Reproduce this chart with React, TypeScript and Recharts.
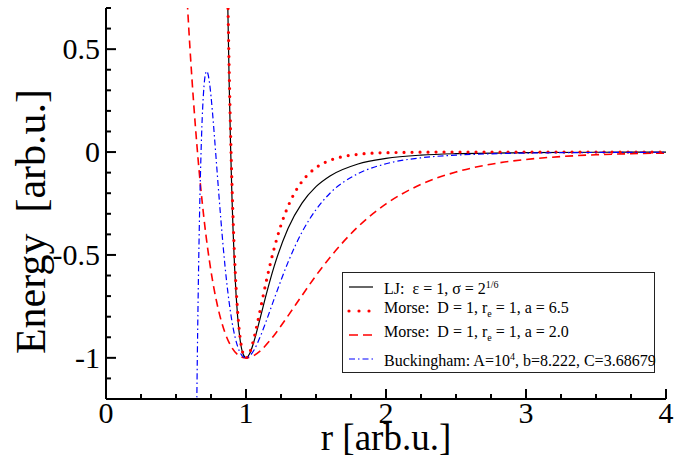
import { LineChart, Line, XAxis, YAxis, Legend } from "recharts";

const FONT = "Liberation Serif";

// ticks
const xTicks = [0, 0.25, 0.5, 0.75, 1, 1.25, 1.5, 1.75, 2, 2.25, 2.5, 2.75, 3, 3.25, 3.5, 3.75, 4];
const yTicks = [-1.2, -1.1, -1, -0.9, -0.8, -0.7, -0.6, -0.5, -0.4, -0.3, -0.2, -0.1, 0, 0.1, 0.2, 0.3, 0.4, 0.5, 0.6, 0.7];

// LJ: eps = 1, sigma = 2^(1/6)
const ljR = [0.86, 0.87, 0.88, 0.89, 0.9, 0.92, 0.94, 0.96, 0.98, 1, 1.03, 1.06, 1.1, 1.15, 1.2, 1.3, 1.4, 1.5, 1.6, 1.8, 2, 2.25, 2.5, 3, 3.5, 4];
const ljV = [1.166, 0.706, 0.33, 0.024, -0.223, -0.579, -0.798, -0.923, -0.983, -1, -0.974, -0.913, -0.81, -0.678, -0.558, -0.371, -0.248, -0.168, -0.116, -0.058, -0.031, -0.015, -0.008, -0.003, -0.001, -0.0005];

// Morse a = 6.5
const morseAR = [0.86, 0.87, 0.88, 0.89, 0.9, 0.92, 0.94, 0.96, 0.98, 1, 1.02, 1.04, 1.06, 1.08, 1.1, 1.15, 1.2, 1.25, 1.3, 1.35, 1.4, 1.5, 1.6, 1.7, 1.8, 2, 2.5, 3, 4];
const morseAV = [1.203, 0.764, 0.396, 0.09, -0.162, -0.535, -0.772, -0.912, -0.981, -1, -0.985, -0.948, -0.896, -0.836, -0.772, -0.612, -0.471, -0.355, -0.264, -0.195, -0.143, -0.076, -0.04, -0.021, -0.011, -0.003, 0, 0, 0];

// Morse a = 2.0
const morseBR = [0.57, 0.6, 0.65, 0.7, 0.75, 0.8, 0.85, 0.9, 0.95, 1, 1.05, 1.1, 1.2, 1.3, 1.4, 1.5, 1.6, 1.8, 2, 2.25, 2.5, 2.75, 3, 3.25, 3.5, 3.75, 4];
const morseBV = [0.858, 0.502, 0.028, -0.324, -0.579, -0.758, -0.878, -0.951, -0.989, -1, -0.991, -0.967, -0.891, -0.796, -0.697, -0.6, -0.512, -0.363, -0.252, -0.157, -0.097, -0.059, -0.036, -0.022, -0.013, -0.008, -0.005];

// Buckingham
const buckR = [0.63, 0.64, 0.65, 0.66, 0.67, 0.68, 0.69, 0.7, 0.71, 0.72, 0.73, 0.74, 0.76, 0.78, 0.8, 0.82, 0.84, 0.86, 0.88, 0.9, 0.92, 0.94, 0.96, 0.98, 1, 1.03, 1.06, 1.1, 1.15, 1.2, 1.3, 1.4, 1.5, 1.6, 1.8, 2, 2.25, 2.5, 2.75, 3, 3.5, 4];
const buckV = [-2.68, -1.8, -1.13, -0.622, -0.245, 0.023, 0.207, 0.32, 0.378, 0.393, 0.375, 0.333, 0.198, 0.027, -0.152, -0.324, -0.482, -0.619, -0.732, -0.824, -0.894, -0.944, -0.977, -0.995, -1, -0.988, -0.959, -0.9, -0.811, -0.716, -0.536, -0.389, -0.28, -0.2, -0.105, -0.057, -0.028, -0.015, -0.0085, -0.005, -0.002, -0.0009];

const pts = (rs: number[], vs: number[]) => rs.map((r, i) => ({ r, v: vs[i] }));

const series = [
  { key: "lj", data: pts(ljR, ljV), color: "#000000", width: 1.2, dash: undefined, legendDash: undefined, cap: "butt" },
  { key: "morseA", data: pts(morseAR, morseAV), color: "#ff0000", width: 3.2, dash: "0 8", legendDash: "0 10", cap: "round" },
  { key: "morseB", data: pts(morseBR, morseBV), color: "#ff0000", width: 1.6, dash: "8 5", legendDash: "9 5", cap: "butt" },
  { key: "buck", data: pts(buckR, buckV), color: "#0000ff", width: 1.2, dash: "6 3 1.5 3", legendDash: "6 3 1.5 3", cap: "butt" },
];

const legendLabels = [
  <>LJ:  ε = 1, σ = 2<sup style={{ fontSize: 10 }}>1/6</sup></>,
  <>Morse:  D = 1, r<sub style={{ fontSize: 10 }}>e</sub> = 1, a = 6.5</>,
  <>Morse:  D = 1, r<sub style={{ fontSize: 10 }}>e</sub> = 1, a = 2.0</>,
  <>Buckingham: A=10<sup style={{ fontSize: 10 }}>4</sup>, b=8.222, C=3.68679</>,
];

const isMajorX = (v: number) => Math.abs(v - Math.round(v)) < 1e-9;
const isMajorY = (v: number) => Math.abs(v * 2 - Math.round(v * 2)) < 1e-9;

const BottomTick = (p: any) => {
  const v = p.payload.value;
  const major = isMajorX(v);
  return (
    <g>
      <line x1={p.x} x2={p.x} y1={p.y} y2={p.y - (major ? 10 : 5)} stroke="#000" strokeWidth={2} />
      {major && (
        <text x={p.x} y={p.y + 24} textAnchor="middle" fontFamily={FONT} fontSize={30} fill="#000">
          {String(v)}
        </text>
      )}
    </g>
  );
};

const TopTick = (p: any) => {
  const major = isMajorX(p.payload.value);
  return <line x1={p.x} x2={p.x} y1={p.y} y2={p.y + (major ? 10 : 5)} stroke="#000" strokeWidth={2} />;
};

const LeftTick = (p: any) => {
  const v = p.payload.value;
  const major = isMajorY(v);
  return (
    <g>
      <line x1={p.x} x2={p.x + (major ? 10 : 5)} y1={p.y} y2={p.y} stroke="#000" strokeWidth={2} />
      {major && (
        <text x={p.x - 6} y={p.y + 10} textAnchor="end" fontFamily={FONT} fontSize={30} fill="#000">
          {String(v)}
        </text>
      )}
    </g>
  );
};

const RightTick = (p: any) => {
  const major = isMajorY(p.payload.value);
  return <line x1={p.x} x2={p.x - (major ? 10 : 5)} y1={p.y} y2={p.y} stroke="#000" strokeWidth={2} />;
};

const LegendBox = () => (
  <div
    style={{
      border: "1.5px solid #222",
      background: "#fff",
      width: 313,
      height: 101,
      paddingTop: 2,
      boxSizing: "border-box",
      fontFamily: FONT,
      fontSize: 16,
      color: "#000",
      textAlign: "left",
    }}
  >
    {series.map((s, i) => (
      <div key={s.key} style={{ display: "flex", alignItems: "center", height: 24, whiteSpace: "pre" }}>
        <svg width={38} height={12} style={{ flex: "none" }}>
          <line
            x1={6}
            x2={30}
            y1={6}
            y2={6}
            stroke={s.color}
            strokeWidth={s.width}
            strokeDasharray={s.legendDash}
            strokeLinecap={s.cap as any}
          />
        </svg>
        <span style={{ marginLeft: 3, lineHeight: "20px" }}>{legendLabels[i]}</span>
      </div>
    ))}
  </div>
);

const axisLine = { stroke: "#000", strokeWidth: 2 };

export default function App() {
  return (
    <div style={{ position: "absolute", left: 0, top: 0, width: 674, height: 467, background: "#fff" }}>
      <LineChart width={674} height={467} margin={{ top: 8, right: 8, left: 0, bottom: 0 }}>
        <XAxis
          xAxisId="b"
          dataKey="r"
          type="number"
          domain={[0, 4]}
          ticks={xTicks}
          interval={0}
          allowDataOverflow
          height={68}
          tickSize={0}
          tickMargin={0}
          tickLine={false}
          axisLine={axisLine}
          tick={<BottomTick />}
          label={{
            content: (lp: any) => {
              const vb = lp.viewBox;
              return (
                <text x={vb.x + vb.width / 2} y={vb.y + 51} textAnchor="middle" fontFamily={FONT} fontSize={37} fill="#000">
                  r [arb.u.]
                </text>
              );
            },
          }}
        />
        <XAxis
          xAxisId="t"
          orientation="top"
          dataKey="r"
          type="number"
          domain={[0, 4]}
          ticks={xTicks}
          interval={0}
          allowDataOverflow
          height={0}
          tickSize={0}
          tickMargin={0}
          tickLine={false}
          axisLine={axisLine}
          tick={<TopTick />}
        />
        <YAxis
          yAxisId="l"
          type="number"
          domain={[-1.2, 0.7]}
          ticks={yTicks}
          interval={0}
          allowDataOverflow
          width={106}
          tickSize={0}
          tickMargin={0}
          tickLine={false}
          axisLine={axisLine}
          tick={<LeftTick />}
          label={{
            content: (lp: any) => {
              const vb = lp.viewBox;
              const cx = vb.x + 31;
              const cy = vb.y + vb.height / 2 + 18;
              return (
                <text
                  x={cx}
                  y={cy}
                  transform={`rotate(-90, ${cx}, ${cy})`}
                  textAnchor="middle"
                  dominantBaseline="central"
                  fontFamily={FONT}
                  fontSize={42}
                  fill="#000"
                  style={{ whiteSpace: "pre" }}
                >
                  Energy  [arb.u.]
                </text>
              );
            },
          }}
        />
        <YAxis
          yAxisId="rt"
          orientation="right"
          type="number"
          domain={[-1.2, 0.7]}
          ticks={yTicks}
          interval={0}
          allowDataOverflow
          width={0}
          tickSize={0}
          tickMargin={0}
          tickLine={false}
          axisLine={axisLine}
          tick={<RightTick />}
        />
        {series.map((s) => (
          <Line
            key={s.key}
            xAxisId="b"
            yAxisId="l"
            data={s.data}
            dataKey="v"
            type="monotone"
            stroke={s.color}
            strokeWidth={s.width}
            strokeDasharray={s.dash}
            strokeLinecap={s.cap as any}
            dot={false}
            activeDot={false}
            isAnimationActive={false}
          />
        ))}
        <Legend
          layout="horizontal"
          verticalAlign="middle"
          align="center"
          content={<LegendBox />}
          wrapperStyle={{ position: "absolute", left: 342, top: 272, width: 313, height: 101 }}
        />
      </LineChart>
    </div>
  );
}
